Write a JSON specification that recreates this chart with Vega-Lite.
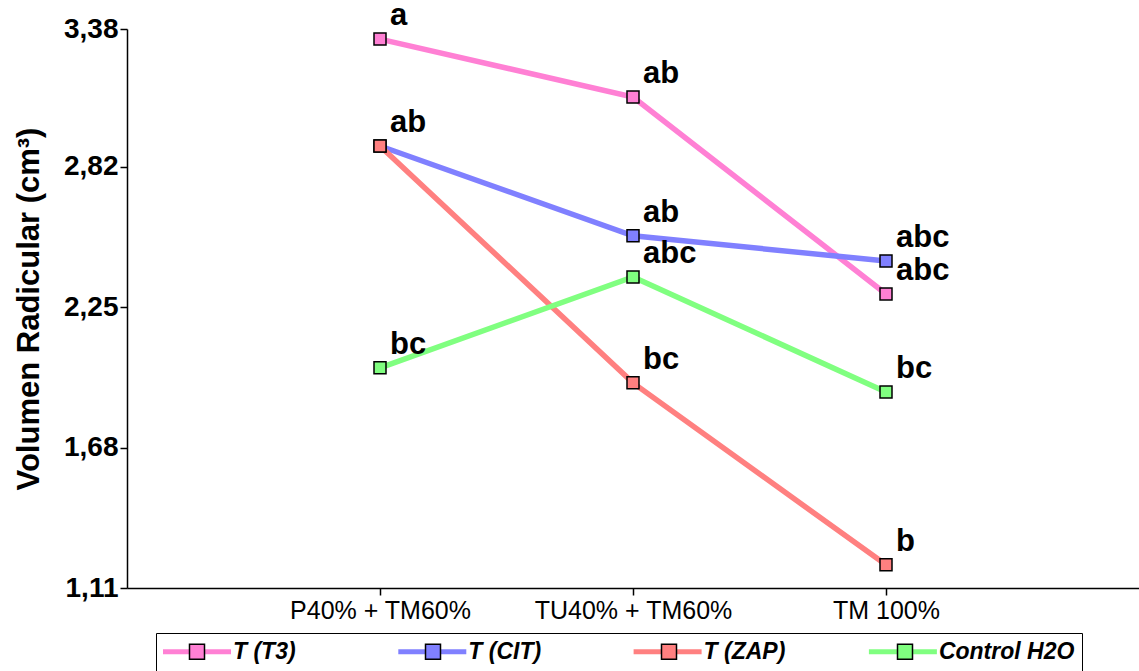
{
  "$schema": "https://vega.github.io/schema/vega-lite/v6.json",
  "autosize": {"type": "none"},
  "width": 1012,
  "height": 559,
  "padding": {"left": 127, "top": 29, "right": 0, "bottom": 83},
  "background": "white",
  "config": {
    "view": {"stroke": null},
    "locale": {"number": {"decimal": ",", "thousands": ".", "grouping": [3], "currency": ["", ""]}},
    "font": "Liberation Sans",
    "axis": {
      "domainColor": "black", "domainWidth": 1.5, "tickColor": "black", "tickWidth": 1.5,
      "tickSize": 7, "grid": false, "labelColor": "black", "titleColor": "black"
    }
  },
  "data": {
    "values": [
      {"trat": "P40% + TM60%", "serie": "T (T3)", "valor": 3.339, "letra": "a"},
      {"trat": "TU40% + TM60%", "serie": "T (T3)", "valor": 3.104, "letra": "ab"},
      {"trat": "TM 100%", "serie": "T (T3)", "valor": 2.304, "letra": "abc"},
      {"trat": "P40% + TM60%", "serie": "T (CIT)", "valor": 2.905, "letra": "ab"},
      {"trat": "TU40% + TM60%", "serie": "T (CIT)", "valor": 2.54, "letra": "ab"},
      {"trat": "TM 100%", "serie": "T (CIT)", "valor": 2.438, "letra": "abc"},
      {"trat": "P40% + TM60%", "serie": "T (ZAP)", "valor": 2.905, "letra": ""},
      {"trat": "TU40% + TM60%", "serie": "T (ZAP)", "valor": 1.943, "letra": "bc"},
      {"trat": "TM 100%", "serie": "T (ZAP)", "valor": 1.204, "letra": "b"},
      {"trat": "P40% + TM60%", "serie": "Control H2O", "valor": 2.004, "letra": "bc"},
      {"trat": "TU40% + TM60%", "serie": "Control H2O", "valor": 2.373, "letra": "abc"},
      {"trat": "TM 100%", "serie": "Control H2O", "valor": 1.906, "letra": "bc"}
    ]
  },
  "encoding": {
    "x": {
      "field": "trat", "type": "ordinal",
      "sort": ["P40% + TM60%", "TU40% + TM60%", "TM 100%"],
      "scale": {"type": "point", "padding": 1},
      "axis": {"title": null, "labelAngle": 0, "labelFontSize": 25, "labelPadding": 3, "labelLimit": 400, "labelFont": "Liberation Sans"}
    },
    "y": {
      "field": "valor", "type": "quantitative",
      "scale": {"domain": [1.11, 3.38], "nice": false, "zero": false},
      "axis": {
        "title": "Volumen Radicular (cm³)", "values": [1.11, 1.68, 2.25, 2.82, 3.38], "format": ".2f",
        "labelFontSize": 28, "labelFontWeight": "bold", "labelPadding": 2,
        "titleFontSize": 31, "titleFontWeight": "bold", "titlePadding": 18
      }
    }
  },
  "layer": [
    {
      "mark": {"type": "line", "strokeWidth": 5.5},
      "encoding": {
        "stroke": {
          "field": "serie", "type": "nominal",
          "scale": {"domain": ["T (T3)", "T (CIT)", "T (ZAP)", "Control H2O"], "range": ["#ff80d4", "#8080ff", "#ff8080", "#80ff80"]},
          "legend": {
            "title": null, "orient": "none", "legendX": 29, "legendY": 604, "direction": "horizontal",
            "columns": 4, "gridAlign": "all", "columnPadding": 19.3, "padding": 7,
            "symbolType": "M-1.533,0H7.533", "symbolSize": 225, "symbolStrokeWidth": 5, "symbolFillColor": "transparent",
            "labelFontSize": 23, "labelFontWeight": "bold", "labelFontStyle": "italic", "labelColor": "black", "labelOffset": 47,
            "strokeColor": "black", "labelLimit": 300
          }
        }
      }
    },
    {
      "mark": {"type": "point", "shape": "square", "filled": true, "size": 144, "stroke": "black", "strokeWidth": 1.5, "opacity": 1},
      "encoding": {
        "fill": {
          "field": "serie", "type": "nominal",
          "sort": ["T (T3)", "T (CIT)", "T (ZAP)", "Control H2O"],
          "scale": {"range": ["#ff80d4", "#8080ff", "#ff8080", "#80ff80"]},
          "legend": {
            "title": null, "orient": "none", "legendX": 29, "legendY": 604, "direction": "horizontal",
            "columns": 4, "gridAlign": "all", "columnPadding": 166, "padding": 7,
            "symbolType": "M2,-1H4V1H2Z", "symbolSize": 225, "symbolStrokeWidth": 1.5, "symbolStrokeColor": "black",
            "symbolOpacity": 1,
            "labelExpr": "''",
            "labelFontSize": 23, "labelFontWeight": "bold", "labelFontStyle": "italic", "labelColor": "black", "labelOffset": 47,
            "labelLimit": 300
          }
        }
      }
    },
    {
      "mark": {"type": "text", "align": "left", "baseline": "alphabetic", "dx": 10, "dy": -14, "fontSize": 31, "fontWeight": "bold", "color": "black"},
      "encoding": {"text": {"field": "letra"}}
    }
  ]
}
